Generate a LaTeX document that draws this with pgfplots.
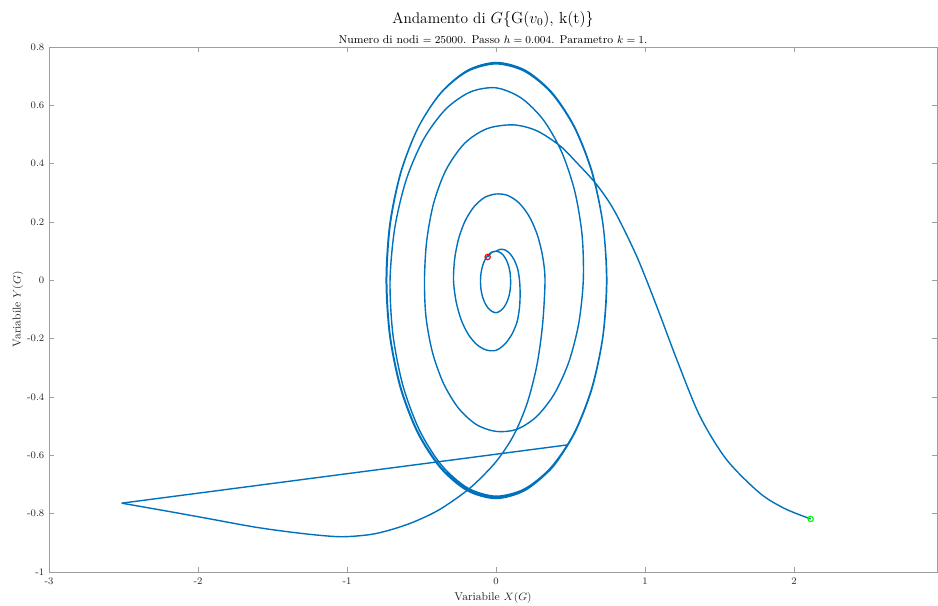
\documentclass[border=0pt]{standalone}
\usepackage{pgfplots}
\pgfplotsset{compat=1.18}
\definecolor{mblue}{rgb}{0,0.447,0.741}
\definecolor{axgray}{rgb}{0.62,0.62,0.62}
\definecolor{txt}{rgb}{0.15,0.15,0.15}
\begin{document}
\begin{tikzpicture}
\begin{axis}[
  scale only axis,
  width=666pt, height=393.75pt,
  xmin=-3, xmax=2.96, ymin=-1, ymax=0.8,
  xtick={-3,-2,-1,0,1,2},
  xticklabels={-3,-2,-1,0,1,2},
  ytick={-1,-0.8,-0.6,-0.4,-0.2,0,0.2,0.4,0.6,0.8},
  yticklabels={-1,-0.8,-0.6,-0.4,-0.2,0,0.2,0.4,0.6,0.8},
  tick align=inside,
  major tick length=3.75pt,
  axis line style={axgray, line width=0.6pt},
  every tick/.style={axgray, line width=0.6pt},
  tick label style={font=\fontsize{7.5}{9}\selectfont, text=txt},
  xticklabel style={yshift=-1pt},
  xlabel={Variabile $X(G)$},
  ylabel={Variabile $Y(G)$},
  label style={font=\fontsize{8.5}{10}\selectfont, text=txt},
  xlabel style={yshift=1pt},
  ylabel style={yshift=-4pt},
  clip=true,
]
% segment 1: tail + outer spiral
\addplot[mblue, line width=1.05pt, smooth, tension=0.5] coordinates {
(2.112,-0.818) (1.94,-0.783) (1.772,-0.730) (1.548,-0.615) (1.369,-0.466) (1.213,-0.271) (1.078,-0.088) (0.944,0.083) (0.795,0.238) (0.676,0.328) (0.541,0.404) (0.430,0.461) (0.273,0.513) (0.116,0.533)
(-0.06,0.52) (-0.21,0.47) (-0.334,0.38) (-0.418,0.265) (-0.465,0.135) (-0.48,0.0)
(-0.4697,-0.1259) (-0.4267,-0.2463) (-0.3528,-0.3528) (-0.2527,-0.4376) (-0.1324,-0.4942) (0,-0.518)
(0.1370,-0.5113) (0.2703,-0.4682) (0.3903,-0.3903) (0.4878,-0.2817) (0.5551,-0.1487) (0.586,0)
(0.5779,0.1549) (0.5288,0.3053) (0.4405,0.4405) (0.3177,0.5502) (0.1676,0.6256) (0,0.66)
(-0.1730,0.6457) (-0.3385,0.5863) (-0.4847,0.4847) (-0.6010,0.347) (-0.6786,0.1818) (-0.711,0)
(-0.6918,-0.1854) (-0.6247,-0.3607) (-0.5137,-0.5137) (-0.3658,-0.6336) (-0.1907,-0.7117) (0,-0.740)
(0.1915,-0.7150) (0.370,-0.6410) (0.5240,-0.5240) (0.6420,-0.3706) (0.7170,-0.1921) (0.742,0)
(0.7182,0.1924) (0.6450,0.3724) (0.5268,0.5268) (0.3728,0.6457) (0.1932,0.7211) (0,0.747)
(-0.1928,0.7195) (-0.3710,0.6426) (-0.5230,0.5230) (-0.6385,0.3686) (-0.7099,0.1902) (-0.733,0)
(-0.7098,-0.1902) (-0.638,-0.3683) (-0.5222,-0.5222) (-0.3702,-0.6411) (-0.1921,-0.7169) (0,-0.744)
(0.1925,-0.7183) (0.3718,-0.6440) (0.5258,-0.5258) (0.6440,-0.3718) (0.7182,-0.1924) (0.744,0)
(0.7178,0.1923) (0.6430,0.3712) (0.5250,0.5250) (0.3710,0.6426) (0.1920,0.7166) (0,0.742)
(-0.1919,0.7162) (-0.3705,0.6417) (-0.523,0.523) (-0.6400,0.3695) (-0.7131,0.1911) (-0.737,0)
(-0.713,-0.191) (-0.6410,-0.3701) (-0.5245,-0.5245) (-0.3718,-0.6440) (-0.1932,-0.7212) (0,-0.748)
(0.1932,-0.7208) (0.3725,-0.6452) (0.483,-0.564)
};
% segment 2: jump
\addplot[mblue, line width=1.05pt] coordinates {(0.483,-0.564) (-2.512,-0.764)};
% segment 3: lower arc + inner spiral
\addplot[mblue, line width=1.05pt, smooth, tension=0.5] coordinates {
(-2.512,-0.764) (-2.2,-0.792) (-1.94,-0.816) (-1.606,-0.847) (-1.3,-0.868) (-1.047,-0.879) (-0.85,-0.872) (-0.711,-0.856) (-0.55,-0.828) (-0.376,-0.785) (-0.174,-0.712) (0.0,-0.622) (0.12,-0.53) (0.21,-0.42) (0.275,-0.29) (0.313,-0.15) (0.329,0)
(0.3125,0.0837) (0.2754,0.159) (0.221,0.221) (0.1535,0.2659) (0.078,0.2912) (0,0.296)
(-0.0761,0.2842) (-0.1462,0.2531) (-0.2054,0.2054) (-0.25,0.1443) (-0.277,0.0742) (-0.285,0)
(-0.268,-0.0718) (-0.2338,-0.135) (-0.1856,-0.1856) (-0.1275,-0.2208) (-0.0641,-0.2391) (0,-0.24)
(0.0587,-0.2191) (0.1068,-0.185) (0.1418,-0.1418) (0.158,-0.092) (0.162,-0.045) (0.158,0)
(0.1457,0.039) (0.1218,0.0703) (0.0923,0.0923) (0.0602,0.1042) (0.0285,0.1064) (0,0.10)
(-0.0261,0.0973) (-0.0507,0.0877) (-0.0721,0.0721) (-0.0889,0.0513) (-0.0998,0.0267) (-0.104,0)
(-0.1016,-0.0272) (-0.0921,-0.0532) (-0.076,-0.076) (-0.0543,-0.0941) (-0.0284,-0.1061) (0,-0.111)
(0.0282,-0.1051) (0.0533,-0.0924) (0.0739,-0.0739) (0.0886,-0.0512) (0.0968,-0.0259) (0.098,0)
(0.0947,0.0254) (0.0849,0.049) (0.0695,0.0695) (0.0495,0.0857) (0.0258,0.0964) (0,0.1)
(-0.0259,0.0966) (-0.056,0.08)
};
% markers
\addplot[only marks, mark=o, mark size=2pt, draw={rgb,1:red,0;green,1;blue,0}, line width=0.9pt] coordinates {(2.112,-0.818)};
\addplot[only marks, mark=o, mark size=2pt, draw=red, line width=0.9pt] coordinates {(-0.056,0.08)};
\end{axis}
\node[anchor=base, font=\fontsize{8.5}{10}\selectfont, text=black] at ([yshift=2.6pt]current axis.north) {Numero di nodi $= 25000$. Passo $h = 0.004$. Parametro $k = 1$.};
\node[anchor=base, font=\fontsize{11.5}{13}\selectfont, text=black] at ([yshift=17.6pt]current axis.north) {Andamento di $G\{\mathrm{G}(v_0),\,\mathrm{k(t)}\}$};
\pgfresetboundingbox
\path[use as bounding box] ([xshift=-36.75pt,yshift=-25.5pt]current axis.south west) rectangle ([xshift=0.75pt,yshift=35.25pt]current axis.north east);
\end{tikzpicture}
\end{document}
